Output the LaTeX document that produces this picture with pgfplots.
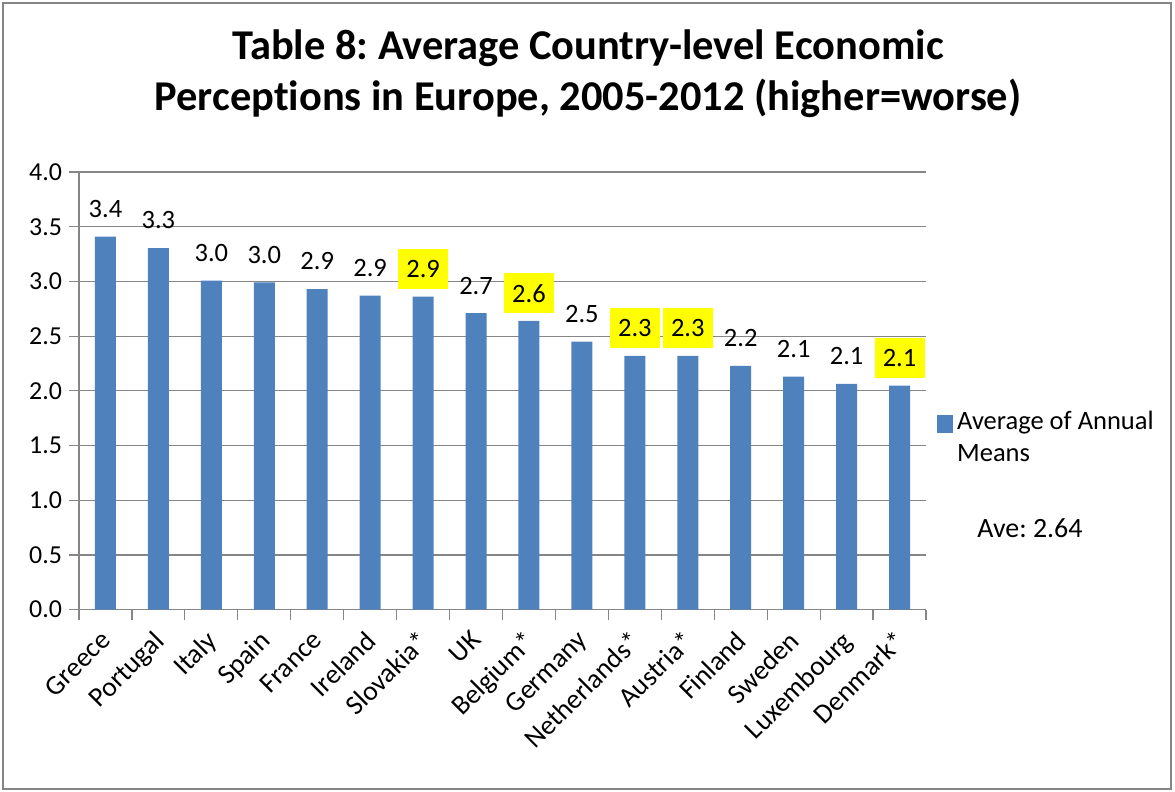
\documentclass[border=0pt]{standalone}
\usepackage{fontspec}
\setmainfont{Carlito}[Ligatures=NoCommon]
\usepackage{pgfplots}
\pgfplotsset{compat=1.18}
\usepackage{pgfplotstable}
\definecolor{barblue}{HTML}{4F81BD}
\definecolor{gridgray}{HTML}{868686}
\definecolor{hlyellow}{HTML}{FFFF00}
\frenchspacing

\pgfplotstableread{
x y label
0 3.41 3.4
1 3.305 3.3
2 3.006 3.0
3 2.99 3.0
4 2.93 2.9
5 2.87 2.9
7 2.71 2.7
9 2.45 2.5
12 2.227 2.2
13 2.13 2.1
14 2.064 2.1
}\plainA
\pgfplotstableread{
x y label
6 2.86 2.9
8 2.64 2.6
10 2.32 2.3
11 2.32 2.3
15 2.048 2.1
}\hiB

\begin{document}
\begin{tikzpicture}
\useasboundingbox (0,0) rectangle (587.5bp,396bp);
\draw[gridgray, line width=1bp] (1.5bp,1.5bp) rectangle (585.5bp,394.5bp);
\node[anchor=base, inner sep=0pt, font=\fontsize{21.3}{25}\selectfont\bfseries] at (294bp,366bp) {Table 8: Average Country-level Economic};
\node[anchor=base, inner sep=0pt, font=\fontsize{21.3}{25}\selectfont\bfseries] at (294bp,340.6bp) {Perceptions in Europe, 2005-2012 (higher=worse)};
\begin{axis}[
  at={(39.5bp,91.2bp)}, anchor=south west,
  scale only axis, width=423.5bp, height=218.8bp,
  ybar, bar width=10.5bp,
  xmin=-0.5, xmax=15.5, ymin=0, ymax=4,
  axis lines*=left,
  axis line style={gridgray, line width=0.6bp},
  ymajorgrids, grid style={gridgray, line width=0.6bp},
  tick align=outside, major tick length=5bp,
  tick style={gridgray, line width=0.6bp},
  xtick={-0.5,0.5,...,15.5}, xticklabels={,,,,,,,,,,,,,,,,},
  extra x ticks={0,...,15},
  extra x tick labels={Greece,Portugal,Italy,Spain,France,Ireland,Slovakia*,UK,Belgium*,Germany,Netherlands*,Austria*,Finland,Sweden,Luxembourg,Denmark*},
  extra x tick style={tick style={draw=none}, xticklabel style={rotate=45, anchor=north east, font=\fontsize{13.8}{16}\selectfont, inner xsep=5.5bp, inner ysep=1bp}},
  ytick={0,0.5,...,4},
  yticklabel style={font=\fontsize{13}{15}\selectfont, /pgf/number format/.cd, fixed, fixed zerofill, precision=1, assume math mode=true},
  /pgf/number format/assume math mode=true,
  nodes near coords,
  point meta=explicit symbolic,
  every node near coord/.append style={anchor=center, yshift=13.8bp, font=\fontsize{13.3}{15}\selectfont, text=black},
  legend style={at={(1.012,0.463)}, anchor=north west, draw=none, fill=none,
    font=\fontsize{13.3}{16}\selectfont, nodes={align=left}, inner sep=0pt},
  legend cell align=left,
  legend image code/.code={\fill[barblue] (0bp,2.6bp) rectangle (8.3bp,11.3bp);},
]
\addplot[fill=barblue, draw=none, bar shift=0pt] table[x=x, y=y, meta=label] {\plainA};
\addlegendentry{Average of Annual\\Means}
\addplot[fill=barblue, draw=none, bar shift=0pt, forget plot,
  every node near coord/.append style={fill=hlyellow, minimum width=25bp, minimum height=20bp, inner sep=0pt}]
  table[x=x, y=y, meta=label] {\hiB};
\end{axis}
\node[anchor=base west, inner sep=0pt, font=\fontsize{14}{16}\selectfont] at (488.5bp,127bp) {Ave: 2.64};
\end{tikzpicture}
\end{document}
